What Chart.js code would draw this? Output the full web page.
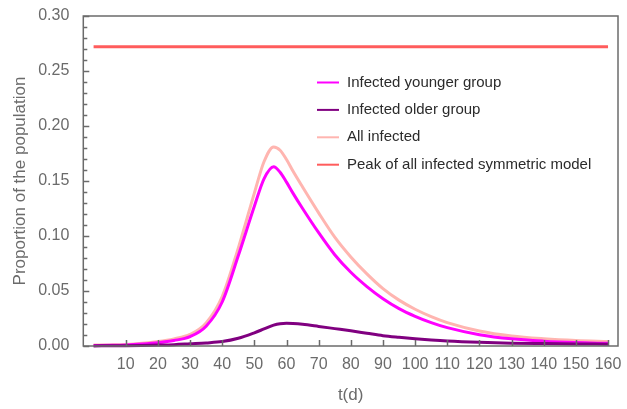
<!DOCTYPE html>
<html>
<head>
<meta charset="utf-8">
<script src="https://cdn.jsdelivr.net/npm/chart.js@4.4.0/dist/chart.umd.min.js"></script>
<style>
  body { margin: 0; background: #fff; }
  canvas { display: block; }
</style>
</head>
<body>
<canvas id="myChart" width="627" height="409"></canvas>
<script>
// time in days
var days = [0, 5, 10, 15, 20, 25, 30, 35, 40, 45, 50, 53, 56, 58, 60, 62, 65, 70, 75, 80, 85, 90, 95, 100, 105, 110, 120, 130, 140, 150, 160];

var youngerInfected = [0.0005, 0.0007, 0.001, 0.0018, 0.003, 0.005, 0.0085, 0.018, 0.040, 0.082, 0.127, 0.152, 0.163, 0.158, 0.149, 0.139, 0.125, 0.103, 0.083, 0.067, 0.054, 0.043, 0.034, 0.027, 0.0213, 0.0167, 0.0103, 0.0065, 0.0044, 0.0031, 0.0024];

var olderInfected = [0.0001, 0.0002, 0.0003, 0.0005, 0.0008, 0.0012, 0.002, 0.0028, 0.004, 0.007, 0.012, 0.0155, 0.019, 0.0203, 0.0206, 0.0204, 0.0197, 0.0178, 0.0158, 0.0138, 0.0116, 0.0094, 0.0079, 0.0066, 0.0055, 0.0046, 0.0034, 0.0026, 0.0022, 0.0019, 0.0017];

var allInfected = [0.0008, 0.001, 0.0014, 0.0024, 0.004, 0.0065, 0.0105, 0.021, 0.045, 0.089, 0.139, 0.1675, 0.181, 0.178, 0.1695, 0.159, 0.1445, 0.121, 0.099, 0.081, 0.0656, 0.0522, 0.0417, 0.0334, 0.0267, 0.0213, 0.0137, 0.0091, 0.0066, 0.005, 0.0041];

var peakDays = [0, 160];
var peakSymmetric = [0.272, 0.272];

var xTicks = [10, 20, 30, 40, 50, 60, 70, 80, 90, 100, 110, 120, 130, 140, 150, 160];
var yTicks = [0, 0.05, 0.10, 0.15, 0.20, 0.25, 0.30];

var grey = '#6b6b6b';
var font = "'Liberation Sans', Arial, sans-serif";

function toPoints(xs, ys) {
  return xs.map(function (x, i) { return { x: x, y: ys[i] }; });
}

// frame with inward ticks, like a framed plot
var framePlugin = {
  id: 'frame',
  afterDatasetsDraw: function (chart) {
    var ctx = chart.ctx;
    var a = chart.chartArea;
    var xs = chart.scales.x, ys = chart.scales.y;
    ctx.save();
    ctx.strokeStyle = grey;
    ctx.lineWidth = 1.5;
    ctx.strokeRect(a.left, a.top, a.right - a.left, a.bottom - a.top);
    ctx.beginPath();
    xTicks.forEach(function (v) {
      var px = Math.round(xs.getPixelForValue(v)) + 0.5;
      ctx.moveTo(px, a.bottom);
      ctx.lineTo(px, a.bottom - 6);
    });
    for (var i = 0; i <= 30; i++) {
      var py = Math.round(ys.getPixelForValue(i / 100)) + 0.5;
      var len = (i % 5 === 0) ? 6 : 4;
      ctx.moveTo(a.left, py);
      ctx.lineTo(a.left + len, py);
    }
    ctx.stroke();
    ctx.restore();
  }
};

// legend drawn inside the plot area
var legendPlugin = {
  id: 'insideLegend',
  afterDraw: function (chart) {
    var ctx = chart.ctx;
    ctx.save();
    ctx.font = '15px ' + font;
    ctx.textBaseline = 'middle';
    chart.data.datasets.forEach(function (ds, i) {
      var y = 82.5 + i * 27.4;
      ctx.strokeStyle = ds.borderColor;
      ctx.lineWidth = 2;
      ctx.beginPath();
      ctx.moveTo(317, y);
      ctx.lineTo(339, y);
      ctx.stroke();
      ctx.fillStyle = '#2b2b2b';
      ctx.fillText(ds.label, 347, y);
    });
    ctx.restore();
  }
};

var ctx = document.getElementById('myChart').getContext('2d');

var myChart = new Chart(ctx, {
  type: 'line',
  data: {
    datasets: [
      {
        label: 'Infected younger group',
        data: toPoints(days, youngerInfected),
        borderColor: '#ff00ff',
        borderWidth: 3,
        order: 1
      },
      {
        label: 'Infected older group',
        data: toPoints(days, olderInfected),
        borderColor: '#800080',
        borderWidth: 3,
        order: 0
      },
      {
        label: 'All infected',
        data: toPoints(days, allInfected),
        borderColor: '#ffb5b0',
        borderWidth: 3,
        order: 2
      },
      {
        label: 'Peak of all infected symmetric model',
        data: toPoints(peakDays, peakSymmetric),
        borderColor: '#ff5c5c',
        borderWidth: 3,
        order: 3
      }
    ]
  },
  options: {
    responsive: false,
    animation: false,
    events: [],
    clip: 4,
    elements: {
      point: { radius: 0 },
      line: { cubicInterpolationMode: 'monotone', fill: false }
    },
    layout: { padding: { top: 16, right: 9, left: 0, bottom: 0 } },
    plugins: {
      legend: { display: false },
      tooltip: { enabled: false }
    },
    scales: {
      x: {
        type: 'linear',
        min: -3.2,
        max: 163.1,
        grid: { display: false },
        border: { display: false },
        afterBuildTicks: function (scale) {
          scale.ticks = xTicks.map(function (v) { return { value: v }; });
        },
        afterFit: function (scale) { scale.height = 63; },
        ticks: {
          color: grey,
          font: { size: 16, family: font },
          padding: 1,
          maxRotation: 0,
          autoSkip: false
        },
        title: {
          display: true,
          text: 't(d)',
          color: grey,
          font: { size: 17, family: font },
          padding: { top: 0, bottom: 3 }
        }
      },
      y: {
        min: 0,
        max: 0.3,
        grid: { display: false },
        border: { display: false },
        afterBuildTicks: function (scale) {
          scale.ticks = yTicks.map(function (v) { return { value: v }; });
        },
        afterFit: function (scale) { scale.width = 83.3; },
        ticks: {
          color: grey,
          font: { size: 16, family: font },
          padding: 6,
          callback: function (v) { return v.toFixed(2); }
        },
        title: {
          display: true,
          text: 'Proportion of the population',
          color: grey,
          font: { size: 17, family: font },
          padding: { top: 10, bottom: 0 }
        }
      }
    }
  },
  plugins: [framePlugin, legendPlugin]
});
</script>
</body>
</html>
